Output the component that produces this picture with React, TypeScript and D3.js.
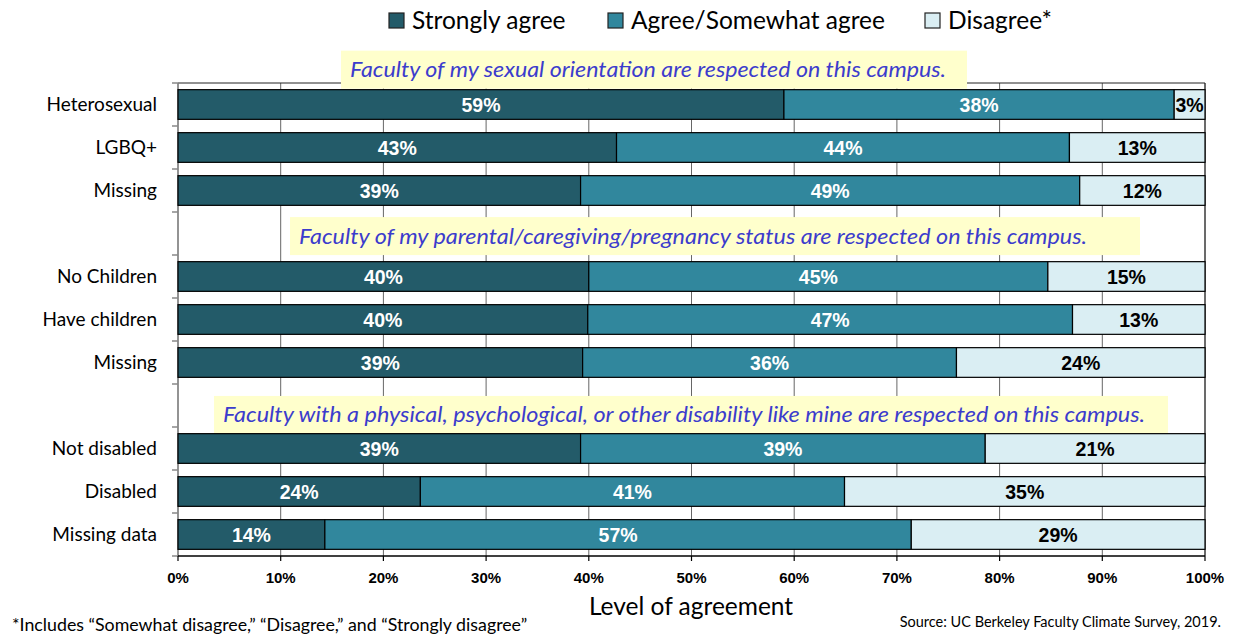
import React from "react";
import * as d3 from "d3";

const categories = ["Heterosexual", "LGBQ+", "Missing", "", "No Children", "Have children", "Missing", "", "Not disabled", "Disabled", "Missing data"];
const stronglyAgree = [59, 42.7, 39.2, 0, 40.0, 39.9, 39.4, 0, 39.2, 23.6, 14.3];
const agree = [38, 44.1, 48.6, 0, 44.7, 47.2, 36.4, 0, 39.4, 41.3, 57.1];
const disagree = [3, 13.2, 12.2, 0, 15.3, 12.9, 24.2, 0, 21.4, 35.1, 28.6];
const seriesNames = ["Strongly agree", "Agree/Somewhat agree", "Disagree*"];
const seriesColors = ["#235B69", "#31879D", "#DAEEF3"];
const labelColors = ["#FFFFFF", "#FFFFFF", "#000000"];
const xTicks = [0, 10, 20, 30, 40, 50, 60, 70, 80, 90, 100];
const headings = [
  { text: "Faculty of my sexual orientation are respected on this campus.", slot: -0.81, x0: 341, x1: 967, len: 596 },
  { text: "Faculty of my parental/caregiving/pregnancy status are respected on this campus.", slot: 3.06, x0: 290, x1: 1140, len: 788 },
  { text: "Faculty with a physical, psychological, or other disability like mine are respected on this campus.", slot: 7.22, x0: 214, x1: 1168, len: 922 },
];

const W = 1235, H = 636;
const left = 178, right = 1205, top = 83, bottom = 556;
const FONT = "Lato, 'Open Sans', sans-serif";
const BOLD = "'Liberation Sans', Arial, sans-serif";

export default function App() {
  const x = d3.scaleLinear().domain([0, 100]).range([left, right]);
  const idx = categories.map((_, i) => i);
  const y = d3.scaleBand<number>().domain(idx).range([top, bottom]).paddingInner(0.31).paddingOuter(0.155);
  const step = y.step();
  const series = [stronglyAgree, agree, disagree];

  return (
    <svg width={W} height={H} style={{ position: "absolute", left: 0, top: 0, background: "#fff" }}>
      {xTicks.map((t) => (
        <line key={"g" + t} x1={x(t)} x2={x(t)} y1={top} y2={bottom} stroke="#666" strokeWidth={1} />
      ))}
      <line x1={left} x2={right} y1={top} y2={top} stroke="#222" strokeWidth={1} />
      <line x1={right} x2={right} y1={top} y2={bottom} stroke="#222" strokeWidth={1} />
      <line x1={left} x2={left} y1={top} y2={bottom} stroke="#888" strokeWidth={1.5} />
      {d3.range(categories.length + 1).map((i) => (
        <line key={"lt" + i} x1={left - 6} x2={left} y1={top + i * step} y2={top + i * step} stroke="#888" strokeWidth={1.5} />
      ))}
      {headings.map((h, i) => {
        const cy = top + (h.slot + 0.5) * step;
        return (
          <g key={"h" + i}>
            <rect x={h.x0} y={cy - 19} width={h.x1 - h.x0} height={38} fill="#FFFFCC" />
            <text x={h.x0 + 9} y={cy + 7.5} fontFamily={FONT} fontStyle="italic" fontSize={22} fill="#3C3CCC" textLength={h.len} lengthAdjust="spacingAndGlyphs">{h.text}</text>
          </g>
        );
      })}
      {idx.map((i) => {
        if (!categories[i]) return null;
        let acc = 0;
        return (
          <g key={"b" + i}>
            {series.map((s, k) => {
              const v = s[i];
              const x0 = x(acc);
              acc += v;
              const x1 = x(acc);
              const by = y(i)!;
              return (
                <g key={k}>
                  <rect x={x0} y={by} width={x1 - x0} height={y.bandwidth()} fill={seriesColors[k]} stroke="#000" strokeWidth={1.2} />
                  <text x={(x0 + x1) / 2} y={by + y.bandwidth() / 2 + 7} textAnchor="middle" fontFamily={BOLD} fontWeight="bold" fontSize={19.5} fill={labelColors[k]}>{Math.round(v) + "%"}</text>
                </g>
              );
            })}
            <text x={157} y={y(i)! + y.bandwidth() / 2 + 6.5} textAnchor="end" fontFamily={FONT} fontSize={19} fill="#000">{categories[i]}</text>
          </g>
        );
      })}
      <line x1={left} x2={right} y1={bottom} y2={bottom} stroke="#000" strokeWidth={1.5} />
      {xTicks.map((t) => (
        <g key={"t" + t}>
          <line x1={x(t)} x2={x(t)} y1={bottom} y2={bottom + 5} stroke="#000" strokeWidth={1.2} />
          <text x={x(t)} y={583} textAnchor="middle" fontFamily={BOLD} fontWeight="bold" fontSize={15} fill="#000">{t + "%"}</text>
        </g>
      ))}
      <text x={691} y={615} textAnchor="middle" fontFamily={FONT} fontSize={24.5} fill="#000">Level of agreement</text>
      {seriesNames.map((n, k) => {
        const lx = [389, 608, 925][k];
        return (
          <g key={"l" + k}>
            <rect x={lx} y={13} width={15} height={15} fill={seriesColors[k]} stroke="#222" strokeWidth={1.2} />
            <text x={lx + 23} y={29} fontFamily={FONT} fontSize={24.5} fill="#000">{n}</text>
          </g>
        );
      })}
      <text x={12} y={631} fontFamily={FONT} fontSize={17.8} fill="#000">*Includes “Somewhat disagree,” “Disagree,” and “Strongly disagree”</text>
      <text x={1221} y={627} textAnchor="end" fontFamily={FONT} fontSize={14.5} fill="#000">Source: UC Berkeley Faculty Climate Survey, 2019.</text>
    </svg>
  );
}
